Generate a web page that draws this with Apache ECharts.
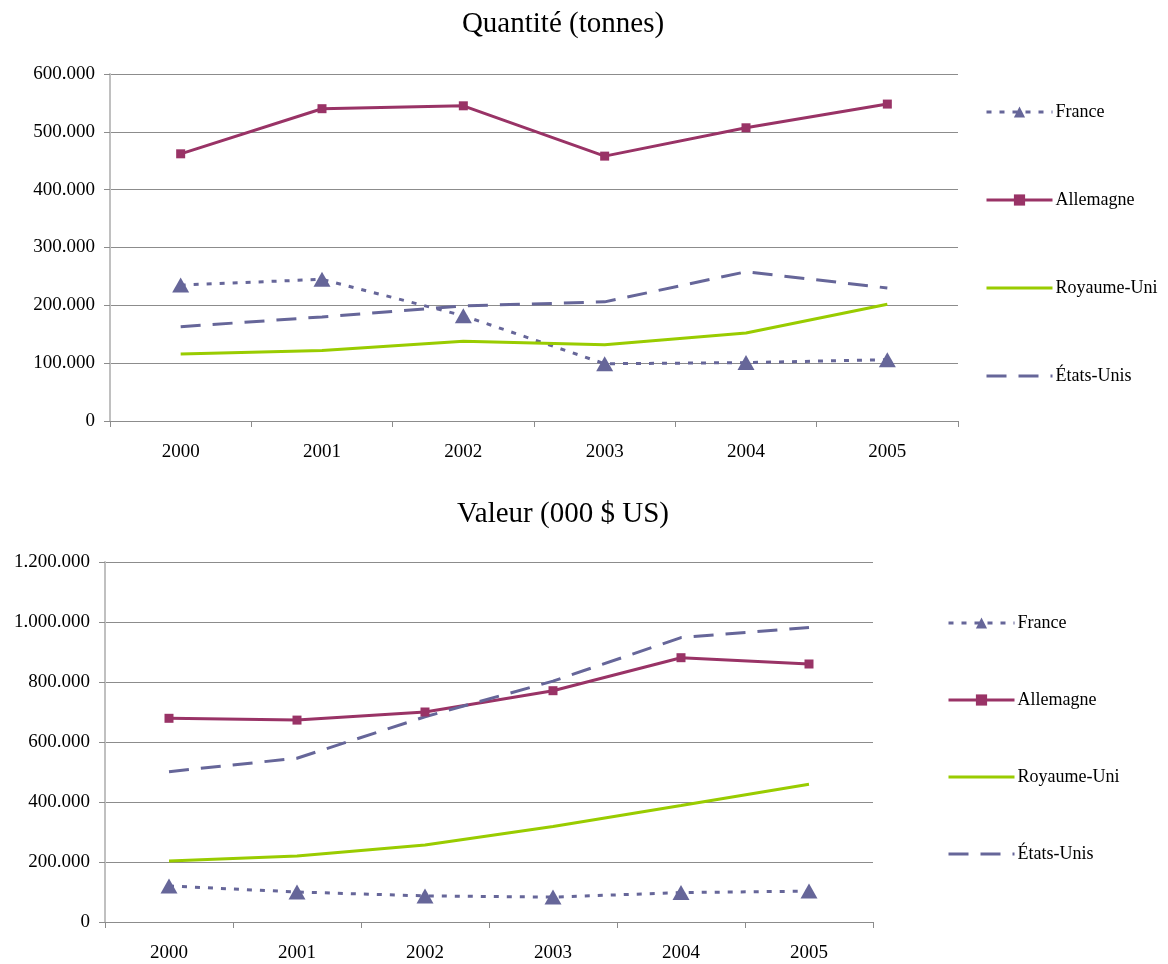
<!DOCTYPE html>
<html>
<head>
<meta charset="utf-8">
<script src="https://cdn.jsdelivr.net/npm/echarts@6/dist/echarts.min.js"></script>
<style>
html,body{margin:0;padding:0;background:#fff;}
#main{width:1168px;height:964px;}
</style>
</head>
<body>
<div id="main"></div>
<script>
var years = ['2000','2001','2002','2003','2004','2005'];
var seriesNames = ['France','Allemagne','Royaume-Uni','États-Unis'];
// quantité (tonnes)
var qFrance = [235000, 245000, 182000, 99000, 101000, 106000];
var qAllemagne = [462000, 540000, 545000, 458000, 507000, 548000];
var qRoyaumeUni = [116000, 122000, 138000, 132000, 152000, 202000];
var qEtatsUnis = [163000, 180000, 199000, 206000, 258000, 230000];
// valeur (000 $ US)
var vFrance = [120000, 100000, 87000, 83000, 98000, 103000];
var vAllemagne = [679000, 673000, 700000, 771000, 881000, 860000];
var vRoyaumeUni = [203000, 220000, 257000, 318000, 388000, 459000];
var vEtatsUnis = [501000, 546000, 684000, 803000, 948000, 982000];

var serif = '"Liberation Serif","Times New Roman",serif';
var colBlue = '#666699';
var colRed = '#993366';
var colGreen = '#99cc00';

function fmt(v) {
    return String(v).replace(/\B(?=(\d{3})+(?!\d))/g, '.');
}

function mkSeries(name, data, idx) {
    var s = {
        name: name,
        type: 'line',
        xAxisIndex: idx,
        yAxisIndex: idx,
        data: data,
        animation: false,
        lineStyle: {width: 3},
        symbol: 'none'
    };
    if (name == 'France') {
        s.color = colBlue;
        s.lineStyle.type = [5, 8];
        s.symbol = 'triangle';
        s.symbolSize = [17, 15];
    } else if (name == 'Allemagne') {
        s.color = colRed;
        s.symbol = 'rect';
        s.symbolSize = 9;
    } else if (name == 'Royaume-Uni') {
        s.color = colGreen;
    } else {
        s.color = colBlue;
        s.lineStyle.type = [20, 12];
    }
    return s;
}

// legend entries: hide the default circle for lines without markers
var legendData = [
    {name: 'France'},
    {name: 'Allemagne'},
    {name: 'Royaume-Uni', itemStyle: {opacity: 0}},
    {name: 'États-Unis', itemStyle: {opacity: 0}}
];

function mkX(idx) {
    return {
        type: 'category',
        gridIndex: idx,
        data: years,
        boundaryGap: true,
        axisLine: {lineStyle: {color: '#8c8c8c', width: 1}},
        axisTick: {show: true, length: 6, lineStyle: {color: '#8c8c8c'}},
        axisLabel: {color: '#000', fontFamily: serif, fontSize: 19, margin: 22}
    };
}

function mkY(idx, max, interval) {
    return {
        type: 'value',
        gridIndex: idx,
        min: 0,
        max: max,
        interval: interval,
        axisLine: {show: true, lineStyle: {color: '#c0c0c0', width: 2}},
        axisTick: {show: true, length: 6, lineStyle: {color: '#8c8c8c'}},
        splitLine: {lineStyle: {color: '#8c8c8c', width: 1}},
        axisLabel: {color: '#000', fontFamily: serif, fontSize: 19, margin: 15, formatter: fmt}
    };
}

var myChart = echarts.init(document.getElementById('main'));
var option = {
    backgroundColor: '#fff',
    title: [
        {text: 'Quantité (tonnes)', left: 558, top: 5, textAlign: 'center',
         textStyle: {fontFamily: serif, fontSize: 29, fontWeight: 'normal', color: '#000'}},
        {text: 'Valeur (000 $ US)', left: 558, top: 495, textAlign: 'center',
         textStyle: {fontFamily: serif, fontSize: 29, fontWeight: 'normal', color: '#000'}}
    ],
    legend: [
        {
            data: legendData,
            orient: 'vertical',
            left: 980,
            top: 98,
            itemWidth: 66,
            itemHeight: 14,
            itemGap: 70,
            lineStyle: {width: 3},
            textStyle: {fontFamily: serif, fontSize: 18, color: '#000', padding: [0, 0, 0, -2]},
            selectedMode: false
        },
        {
            data: legendData,
            orient: 'vertical',
            left: 942,
            top: 609,
            itemWidth: 66,
            itemHeight: 14,
            itemGap: 59,
            lineStyle: {width: 3},
            textStyle: {fontFamily: serif, fontSize: 18, color: '#000', padding: [0, 0, 0, -2]},
            selectedMode: false
        }
    ],
    grid: [
        {left: 110, right: 210, top: 74, bottom: 543},
        {left: 105, right: 295, top: 562, bottom: 42}
    ],
    xAxis: [mkX(0), mkX(1)],
    yAxis: [mkY(0, 600000, 100000), mkY(1, 1200000, 200000)],
    series: [
        mkSeries('France', qFrance, 0),
        mkSeries('Allemagne', qAllemagne, 0),
        mkSeries('Royaume-Uni', qRoyaumeUni, 0),
        mkSeries('États-Unis', qEtatsUnis, 0),
        mkSeries('France', vFrance, 1),
        mkSeries('Allemagne', vAllemagne, 1),
        mkSeries('Royaume-Uni', vRoyaumeUni, 1),
        mkSeries('États-Unis', vEtatsUnis, 1)
    ]
};
myChart.setOption(option);
</script>
</body>
</html>
